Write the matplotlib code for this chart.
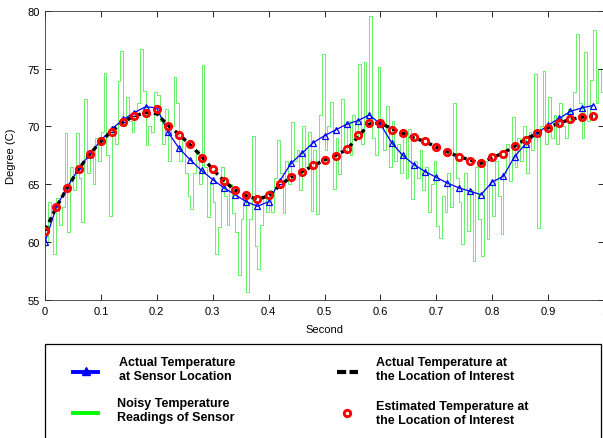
import numpy as np
import matplotlib
matplotlib.use("Agg")
import matplotlib.pyplot as plt
from matplotlib.lines import Line2D
from matplotlib.patches import Rectangle

plt.rcParams['font.family'] = ['Liberation Sans', 'DejaVu Sans']

# ---------------- data ----------------
sample_dt = 0.02
actual_sensor = [60.0, 63.0, 64.8, 66.3, 67.6, 68.8, 69.8, 70.6, 71.2, 71.7,
                 71.6, 69.5, 68.1, 67.1, 66.2, 65.4, 64.7, 64.1, 63.5, 63.1,
                 63.5, 65.3, 66.8, 67.7, 68.6, 69.2, 69.7, 70.2, 70.5, 71.0,
                 70.2, 68.6, 67.5, 66.7, 66.1, 65.6, 65.1, 64.7, 64.4, 64.1,
                 65.2, 65.7, 67.4, 68.5, 69.4, 70.1, 70.7, 71.3, 71.6, 71.8]
actual_interest = [61.0, 63.0, 64.7, 66.3, 67.6, 68.7, 69.6, 70.4, 70.9, 71.2,
                   71.1, 70.1, 69.3, 68.4, 67.4, 66.3, 65.3, 64.5, 64.0, 63.7,
                   64.0, 64.9, 65.6, 66.1, 66.6, 67.1, 67.5, 68.0, 69.1, 70.2,
                   70.3, 69.8, 69.4, 69.0, 68.7, 68.2, 67.8, 67.4, 67.1, 66.8,
                   67.3, 67.7, 68.3, 68.9, 69.4, 69.9, 70.3, 70.6, 70.8, 70.9]
estimated_interest = [61.0, 63.0, 64.7, 66.3, 67.6, 68.7, 69.5, 70.35, 70.9, 71.2,
                      71.5, 70.0, 69.3, 68.5, 67.3, 66.3, 65.25, 64.5, 64.1, 63.7,
                      64.1, 65.0, 65.65, 66.1, 66.7, 67.1, 67.45, 68.05, 69.3, 70.3,
                      70.3, 69.7, 69.4, 69.1, 68.7, 68.25, 67.75, 67.4, 67.05, 66.8,
                      67.4, 67.65, 68.35, 68.85, 69.45, 69.9, 70.3, 70.6, 70.8, 70.9]

noise_dt = 0.005
noisy_sensor = [
    60.0, 63.5, 62.0, 59.0, 63.8, 61.5, 63.0, 69.4, 60.9, 66.5,
    64.5, 69.4, 65.5, 61.7, 72.4, 66.0, 68.0, 65.0, 69.0, 67.0,
    69.5, 74.6, 67.5, 62.3, 70.0, 68.5, 73.9, 76.5, 70.0, 72.5,
    70.5, 69.5, 71.0, 72.0, 76.7, 73.1, 68.4, 70.0, 69.5, 73.0,
    72.7, 70.5, 68.5, 71.5, 67.0, 70.0, 74.3, 72.0, 67.0, 69.0,
    66.0, 64.0, 62.9, 66.0, 68.0, 65.0, 75.3, 66.5, 62.2, 65.0,
    63.5, 59.0, 61.3, 66.5, 64.0, 61.5, 65.0, 62.5, 60.9, 57.2,
    62.0, 64.0, 55.7, 62.0, 69.2, 59.7, 57.7, 61.5, 64.0, 62.6,
    64.5, 62.6, 65.5, 68.8, 66.0, 62.5, 67.0, 65.0, 70.4, 67.0,
    68.0, 64.5, 70.0, 66.5, 69.5, 62.7, 68.0, 62.4, 71.0, 76.3,
    68.0, 70.0, 72.1, 64.6, 69.0, 65.9, 72.4, 68.0, 70.5, 67.5,
    71.0, 69.0, 75.4, 68.5, 75.6, 71.0, 79.5, 69.0, 67.5, 75.1,
    70.5, 68.0, 71.8, 66.5, 70.5, 67.0, 68.5, 66.0, 69.5, 65.5,
    69.8, 63.7, 67.0, 65.5, 68.0, 64.5, 66.5, 62.6, 65.0, 67.0,
    61.4, 60.4, 64.0, 62.6, 66.0, 63.0, 72.0, 65.5, 63.5, 59.8,
    66.0, 61.0, 64.5, 58.4, 66.5, 62.0, 58.8, 67.0, 60.3, 65.0,
    62.3, 67.0, 64.0, 60.7, 66.0, 68.5, 65.3, 70.8, 66.5, 69.0,
    67.0, 70.0, 66.0, 69.5, 68.0, 74.5, 61.2, 70.0, 74.8, 68.5,
    72.5, 69.0, 71.0, 68.5, 72.0, 70.0, 69.0, 71.5, 70.5, 73.0,
    78.0, 72.0, 69.0, 76.4, 70.5, 74.0, 78.3, 72.0, 75.0, 73.0,
]

x_ticks = [0, 0.1, 0.2, 0.3, 0.4, 0.5, 0.6, 0.7, 0.8, 0.9, 1]
x_tick_labels = ['0', '0.1', '0.2', '0.3', '0.4', '0.5', '0.6', '0.7', '0.8', '0.9', '1']
y_ticks = [55, 60, 65, 70, 75, 80]

legend_labels = [
    "Actual Temperature\nat Sensor Location",
    "Noisy Temperature\nReadings of Sensor",
    "Actual Temperature at\nthe Location of Interest",
    "Estimated Temperature at\nthe Location of Interest",
]

t_main = np.arange(len(actual_sensor)) * sample_dt
t_noise = np.arange(len(noisy_sensor)) * noise_dt
t_noise_ext = np.append(t_noise, t_noise[-1] + noise_dt)
noisy_ext = np.append(noisy_sensor, noisy_sensor[-1])

# ---------------- figure ----------------
W, H = 603, 439
fig = plt.figure(figsize=(W / 100, H / 100), dpi=100)

def fx(px):
    return px / W

def fy(py):
    return 1 - py / H

ax = fig.add_axes([fx(45), fy(301), fx(604) - fx(45), fy(11.7) - fy(301)])

green = '#66f066'
blue = '#0000ff'
red = '#ff0000'

ax.plot(t_noise_ext, noisy_ext, drawstyle='steps-post', color=green, lw=0.7, zorder=1)
ax.plot(t_main, actual_sensor, color=blue, lw=0.9, marker='^', ms=4.2,
        mfc='none', mec=blue, mew=0.9, zorder=2)
ax.plot(t_main, actual_interest, color='black', lw=2.4, ls=(0, (1.6, 1.2)), zorder=3)
ax.plot(t_main, estimated_interest, ls='none', marker='o', ms=4.6, mfc='none',
        mec=red, mew=2.0, zorder=4)

ax.set_xlim(0, 1)
ax.set_ylim(55, 80)
ax.set_xticks(x_ticks)
ax.set_xticklabels(x_tick_labels)
ax.set_yticks(y_ticks)
ax.tick_params(direction='in', top=True, right=True, length=4, width=0.6,
               labelsize=8, pad=4, colors='black')
for sp in ax.spines.values():
    sp.set_linewidth(0.6)
    sp.set_color('#333333')
ax.set_xlabel('Second', fontsize=8, labelpad=6)
ax.set_ylabel('Degree (C)', fontsize=8, labelpad=8)

# ---------------- legend ----------------
fig.patches.append(Rectangle((fx(45), fy(470)), fx(601) - fx(45), fy(345) - fy(470),
                             transform=fig.transFigure, fill=False, lw=0.9,
                             edgecolor='black'))

def handle_line(x0, x1, y, **kw):
    fig.lines.append(Line2D([fx(x0), fx(x1)], [fy(y), fy(y)],
                            transform=fig.transFigure, **kw))

# blue with filled triangle
handle_line(73, 98, 373, color=blue, lw=2.8)
fig.lines.append(Line2D([fx(85.5)], [fy(372)], transform=fig.transFigure,
                        marker='^', ms=6, color=blue, mfc=blue, mec=blue))
# green
handle_line(73, 98, 414, color='#00ff00', lw=2.8)
# black dashed
handle_line(337, 358, 373, color='black', lw=3.0, ls=(0, (2.2, 0.8)))
# red circle
fig.lines.append(Line2D([fx(347)], [fy(414)], transform=fig.transFigure,
                        marker='o', ms=4.6, mfc='white', mec=red, mew=2.1, ls='none'))

text_kw = dict(fontsize=9, fontweight='bold', va='center', ha='left',
               linespacing=1.2)
fig.text(fx(119), fy(370), legend_labels[0], **text_kw)
fig.text(fx(117), fy(411), legend_labels[1], **text_kw)
fig.text(fx(376), fy(370), legend_labels[2], **text_kw)
fig.text(fx(376), fy(414), legend_labels[3], **text_kw)

fig.savefig('out.png', dpi=100)
